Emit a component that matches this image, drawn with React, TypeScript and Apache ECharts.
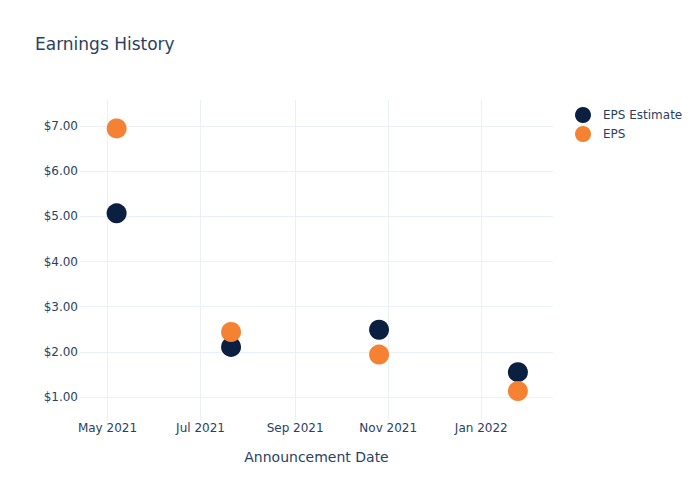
import React, { useEffect, useRef } from "react";
import * as echarts from "echarts";

const dates = ["2021-05-07", "2021-07-21", "2021-10-26", "2022-01-25"];
const epsEstimate = [5.07, 2.11, 2.49, 1.55];
const eps = [6.95, 2.44, 1.94, 1.13];
const xTicks = ["2021-05-01", "2021-07-01", "2021-09-01", "2021-11-01", "2022-01-01"];
const xTickLabels = ["May 2021", "Jul 2021", "Sep 2021", "Nov 2021", "Jan 2022"];
const yTicks = [1, 2, 3, 4, 5, 6, 7];

const FONT = "DejaVu Sans";
const TXT = "#2a3f5f";

const ts = (d: string) => +echarts.time.parse(d);

export default function App() {
  const ref = useRef<HTMLDivElement>(null);
  useEffect(() => {
    const chart = echarts.init(ref.current!, null, { renderer: "svg" });
    const tickTs = xTicks.map(ts);
    chart.setOption({
      animation: false,
      backgroundColor: "#fff",
      textStyle: { fontFamily: FONT },
      title: {
        text: "Earnings History",
        left: 30,
        top: 30,
        textStyle: { fontFamily: FONT, fontSize: 17, fontWeight: "normal", color: TXT },
      },
      legend: {
        orient: "vertical",
        left: 570,
        top: 102,
        itemWidth: 16,
        itemHeight: 16,
        itemGap: 3,
        icon: "circle",
        textStyle: { fontFamily: FONT, fontSize: 12, color: TXT, padding: [0, 0, 0, 7] },
        data: ["EPS Estimate", "EPS"],
      },
      grid: { left: 80, right: 147, top: 100, bottom: 80 },
      xAxis: {
        type: "value",
        min: ts("2021-04-13"),
        max: ts("2022-02-17"),
        name: "Announcement Date",
        nameLocation: "middle",
        nameGap: 30,
        nameTextStyle: { fontFamily: FONT, fontSize: 14, color: TXT },
        axisLine: { show: false },
        axisTick: { show: false, customValues: tickTs },
        axisLabel: {
          customValues: tickTs,
          color: TXT,
          fontFamily: FONT,
          fontSize: 12,
          margin: 2,
          formatter: (v: number) => {
            const i = tickTs.indexOf(v);
            return i >= 0 ? xTickLabels[i] : "";
          },
        },
        splitLine: { show: true, lineStyle: { color: "#ebf0f8", width: 1 } },
      },
      yAxis: {
        type: "value",
        min: 0.49,
        max: 7.58,
        axisLine: { show: false },
        axisTick: { show: false, customValues: yTicks },
        axisLabel: {
          customValues: yTicks,
          color: TXT,
          fontFamily: FONT,
          fontSize: 12,
          margin: 2,
          formatter: (v: number) => "$" + v.toFixed(2),
        },
        splitLine: { show: true, lineStyle: { color: "#ebf0f8", width: 1 } },
      },
      series: [
        {
          name: "EPS Estimate",
          type: "scatter",
          symbolSize: 20,
          itemStyle: { color: "#0b1f40", opacity: 1 },
          data: dates.map((d, i) => [ts(d), epsEstimate[i]]),
        },
        {
          name: "EPS",
          type: "scatter",
          symbolSize: 20,
          itemStyle: { color: "#f58233", opacity: 1 },
          data: dates.map((d, i) => [ts(d), eps[i]]),
        },
      ],
    });
    return () => chart.dispose();
  }, []);
  return (
    <div
      ref={ref}
      style={{ position: "absolute", left: 0, top: 0, width: 700, height: 500 }}
    />
  );
}
